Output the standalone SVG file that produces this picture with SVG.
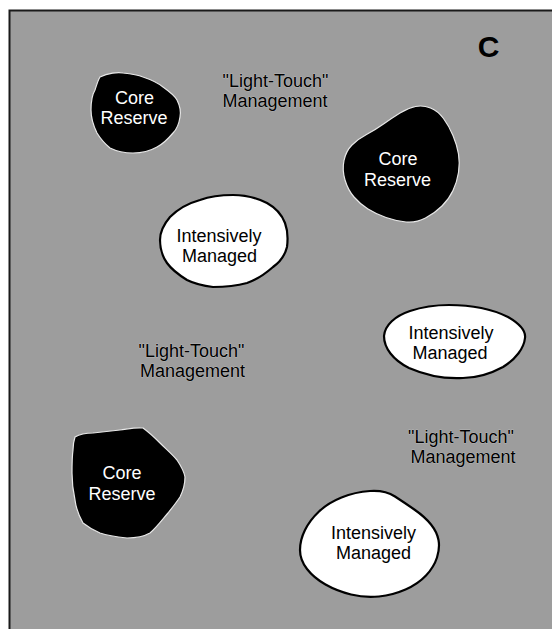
<svg xmlns="http://www.w3.org/2000/svg" width="552" height="629" viewBox="0 0 552 629">
<style>
.bg{fill:#9d9d9d;stroke:none}
.frame{fill:none;stroke:#1a1a1a;stroke-width:2}
.core{fill:#000;stroke:#e8e8e8;stroke-width:1.2}
.im{fill:#fff;stroke:#000;stroke-width:2.2}
text{font-family:"Liberation Sans",Arial,sans-serif;font-size:18px;text-anchor:middle}
.wt{fill:#fff}
.bt{fill:#000}
.lt{fill:#000;stroke:#d0d0d0;stroke-width:0.6;paint-order:stroke}
.letter{font-size:30px;font-weight:bold}
</style>
<rect x="0" y="0" width="552" height="629" fill="#fff"/>
<rect class="bg" x="10" y="11" width="542" height="618"/>
<path class="frame" d="M9.5,629 V10.5 H552"/>
<g id="label-c"><text class="bt letter" x="488.5" y="57">C</text></g>
<g id="core-reserve-1">
<path class="core" d="M100,77 C108,73 118,72 123,73 C132,74 138,75 143,77 C152,80 158,83 163,87 C170,92 175,96 177,100 C180,106 181,112 180,117 C179,124 177,129 173,133 C168,139 163,144 157,147 C150,151 142,153 133,153 C124,153 116,151 110,148 C104,143 100,138 97,133 C93,125 91,117 91,110 C91,102 92,95 95,90 C97,84 98,80 100,77 Z"/>
<text class="wt" x="134.5" y="103.5">Core</text>
<text class="wt" x="134" y="123.5">Reserve</text>
</g>
<g id="core-reserve-2">
<path class="core" d="M430.5,108 Q438,111 443.5,118.5 Q449,126 453,135.5 Q457,145 458.5,154 Q460,163 458.5,172.5 Q457,182 453,190.5 Q449,199 442,206 Q435,213 425.5,218 Q416,223 406,222 Q396,221 386,217.5 Q376,214 368,209 Q360,204 354,197 Q348,190 345,180 Q342,170 344,160.5 Q346,151 352,145 Q358,139 366.5,134.5 Q375,130 383.5,124 Q392,118 400,113 Q408,108 415.5,106.5 Q423,105 430.5,108 Z"/>
<text class="wt" x="398" y="164.5">Core</text>
<text class="wt" x="397.5" y="185.5">Reserve</text>
</g>
<g id="core-reserve-3">
<path class="core" d="M75,437 C80,434 86,433 93,433 C102,432 111,431 120,430 C128,429 136,427 143,428 C150,433 155,438 160,443 C166,449 172,454 177,460 C181,466 184,471 185,477 C185,484 183,491 180,497 C176,503 172,508 168,513 C162,520 156,528 150,533 C143,537 135,538 127,538 C118,537 109,536 100,533 C93,530 88,527 83,523 C79,516 76,508 75,500 C73,491 72,482 72,473 C72,465 72,457 73,450 C73,445 74,440 75,437 Z"/>
<text class="wt" x="122" y="478.5">Core</text>
<text class="wt" x="122" y="499.5">Reserve</text>
</g>
<g id="intensively-managed-1">
<path class="im" d="M200,200 C211,196 222,195 233,195 C245,195 257,198 267,203 C276,208 282,215 285,223 C288,231 288,239 287,247 C285,255 280,262 273,267 C265,274 256,280 247,283 C236,286 224,287 213,287 C204,286 195,284 187,280 C179,275 172,270 167,263 C162,256 160,248 160,240 C160,232 164,224 170,217 C178,209 189,203 200,200 Z"/>
<text class="bt" x="219" y="241.5">Intensively</text>
<text class="bt" x="219.5" y="261.5">Managed</text>
</g>
<g id="intensively-managed-2">
<path class="im" d="M449,305 C470,305 492,309 508,317 C520,324 526,331 525,338 C524,348 516,359 503,367 C490,374 477,378 463,378 C445,379 425,375 409,368 C393,360 384,348 384,336 C385,325 395,316 410,311 C422,307 436,305 449,305 Z"/>
<text class="bt" x="451" y="339">Intensively</text>
<text class="bt" x="450" y="359">Managed</text>
</g>
<g id="intensively-managed-3">
<path class="im" d="M395,496.5 Q405,503 415,510 Q425,517 431,524.5 Q437,532 438.5,540 Q440,548 437,557.5 Q434,567 426,575.5 Q418,584 405.5,589.5 Q393,595 379,596.5 Q365,598 351,594.5 Q337,591 325.5,584.5 Q314,578 307,569 Q300,560 300,550 Q300,540 305,530 Q310,520 319,511.5 Q328,503 341.5,497.5 Q355,492 370,491 Q385,490 395,496.5 Z"/>
<text class="bt" x="373.5" y="539">Intensively</text>
<text class="bt" x="373.5" y="559">Managed</text>
</g>
<g id="light-touch-1">
<text class="lt" x="275.5" y="87">"Light-Touch"</text>
<text class="lt" x="275" y="107">Management</text>
</g>
<g id="light-touch-2">
<text class="lt" x="191.5" y="357">"Light-Touch"</text>
<text class="lt" x="192.5" y="377">Management</text>
</g>
<g id="light-touch-3">
<text class="lt" x="461" y="443">"Light-Touch"</text>
<text class="lt" x="463" y="463">Management</text>
</g>
<g id="connectors"></g>
</svg>
